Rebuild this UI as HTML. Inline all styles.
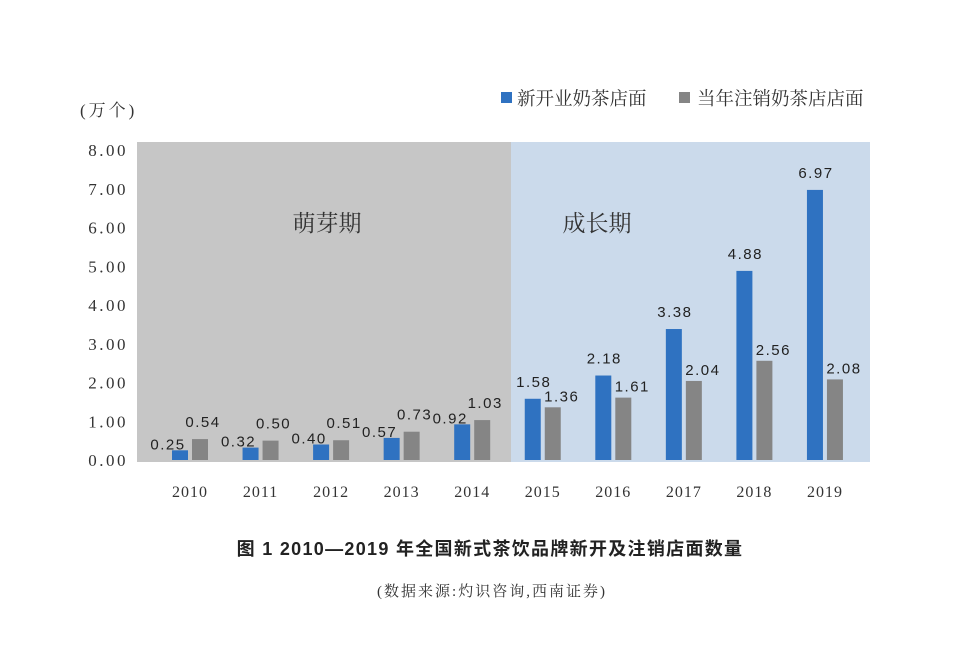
<!DOCTYPE html>
<html><head><meta charset="utf-8"><style>
body{margin:0;background:#fff;}
svg text{font-family:"Liberation Serif","Noto Serif CJK SC",serif;}
.v{font-family:"Liberation Sans","Noto Sans CJK SC",sans-serif;font-size:15px;fill:#222;letter-spacing:1.5px}
</style></head><body>
<svg id="chart" width="964" height="640" viewBox="0 0 964 640" xmlns="http://www.w3.org/2000/svg">
<rect x="137" y="142" width="374" height="320" fill="#c6c6c6"/>
<rect x="511" y="142" width="359" height="320" fill="#cbdaeb"/>
<text x="327" y="231" font-size="23" text-anchor="middle" fill="#333">萌芽期</text>
<text x="597" y="231" font-size="23" text-anchor="middle" fill="#333">成长期</text>
<text x="80" y="116" font-size="17" fill="#333" letter-spacing="3">(万个)</text>
<g>
<rect x="501" y="92" width="11" height="11" fill="#2f72c1"/>
<text x="517" y="105" font-size="18.5" fill="#333">新开业奶茶店面</text>
<rect x="679" y="92" width="11" height="11" fill="#858585"/>
<text x="697" y="105" font-size="18.5" fill="#333">当年注销奶茶店店面</text>
</g>
<g id="yaxis"></g><g id="bars"></g><g id="xaxis"></g>
<text x="490" y="555" font-size="18" font-weight="bold" text-anchor="middle" fill="#222" letter-spacing="1.3" style="font-family:'Liberation Sans','Noto Sans CJK SC',sans-serif">图 1  2010—2019 年全国新式茶饮品牌新开及注销店面数量</text>
<text x="492" y="596" font-size="15" text-anchor="middle" fill="#333" letter-spacing="2">(数据来源:灼识咨询,西南证券)</text>
</svg>
<script>
const years=["2010","2011","2012","2013","2014","2015","2016","2017","2018","2019"];
const newStores=[0.25,0.32,0.40,0.57,0.92,1.58,2.18,3.38,4.88,6.97];
const closedStores=[0.54,0.50,0.51,0.73,1.03,1.36,1.61,2.04,2.56,2.08];
const yTicks=[0,1,2,3,4,5,6,7,8];
const NS="http://www.w3.org/2000/svg";
function y(v){return 460-v*38.75;}
function x(i){return 190+i*70.55;}
function mk(t,a,p,txt){const e=document.createElementNS(NS,t);for(const k in a)e.setAttribute(k,a[k]);if(txt!==undefined)e.textContent=txt;p.appendChild(e);return e;}
const ya=document.getElementById('yaxis'),ba=document.getElementById('bars'),xa=document.getElementById('xaxis');
yTicks.forEach(t=>{
  const e=mk('text',{x:128,y:y(t)+6,'font-size':17,'text-anchor':'end',fill:'#333','letter-spacing':2.5},ya,t.toFixed(2));
  
  
});
years.forEach((yr,i)=>{
  const c=x(i);
  const early=i<5;
  const b1=mk('rect',{x:c-18,y:y(newStores[i]),width:16,height:newStores[i]*38.75,fill:'#2f72c1'},ba);
  
  
  const b2=mk('rect',{x:c+2,y:y(closedStores[i]),width:16,height:closedStores[i]*38.75,fill:'#858585'},ba);
  
  
  const l1=mk('text',{x:early?c-22:c-9,y:y(newStores[i])-(early?1:12),'text-anchor':'middle',class:'v'},ba,newStores[i].toFixed(2));
  
  
  const l2=mk('text',{x:early?c+13:c+19,y:y(closedStores[i])-(early?12:6),'text-anchor':'middle',class:'v'},ba,closedStores[i].toFixed(2));
  
  
  const xl=mk('text',{x:c,y:497,'font-size':16,'text-anchor':'middle',fill:'#333','letter-spacing':1},xa,yr);
  
  
});
</script>
</body></html>
